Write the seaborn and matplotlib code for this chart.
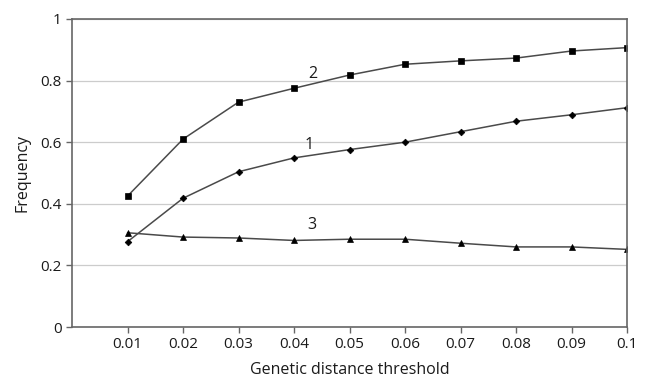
import matplotlib
matplotlib.use("Agg")
import matplotlib.pyplot as plt
import seaborn as sns
import pandas as pd

thresholds = [0.01, 0.02, 0.03, 0.04, 0.05, 0.06, 0.07, 0.08, 0.09, 0.10]
tick_labels = ["0.01", "0.02", "0.03", "0.04", "0.05", "0.06", "0.07", "0.08", "0.09", "0.1"]
series1 = [0.277, 0.418, 0.504, 0.549, 0.576, 0.600, 0.634, 0.668, 0.689, 0.712]
series2 = [0.425, 0.610, 0.730, 0.775, 0.818, 0.853, 0.864, 0.873, 0.896, 0.907]
series3 = [0.306, 0.292, 0.289, 0.281, 0.285, 0.285, 0.272, 0.260, 0.260, 0.252]
series_names = ["1", "2", "3"]

sns.set_style("white")
plt.rcParams['font.family'] = ['Open Sans', 'DejaVu Sans']

fig = plt.figure(figsize=(6.46, 3.81), dpi=100)
ax = fig.add_axes([0.1115, 0.1417, 0.8591, 0.8085])

for ser, mk, ms in [(series2, "s", 4.5), (series1, "D", 3.4), (series3, "^", 5)]:
    sns.lineplot(x=thresholds, y=ser, ax=ax, color="#4a4a4a", linewidth=1.1,
                 marker=mk, markersize=ms, markerfacecolor="black",
                 markeredgecolor="black", markeredgewidth=0.5)

ax.set_xlim(0, 0.1)
ax.set_ylim(0, 1)
ax.set_xticks(thresholds)
ax.set_xticklabels(tick_labels)
ax.set_yticks([0, 0.2, 0.4, 0.6, 0.8, 1.0])
ax.set_yticklabels(["0", "0.2", "0.4", "0.6", "0.8", "1"])
ax.yaxis.grid(True, color="#cccccc", linewidth=0.9)
ax.set_axisbelow(True)
for s in ax.spines.values():
    s.set_color("#666666")
    s.set_linewidth(1.2)
ax.tick_params(axis="both", direction="out", length=4, width=1, color="#666666",
               labelsize=11, labelcolor="#1a1a1a", bottom=True, left=True)

ax.text(0.0433, 0.795, series_names[1], fontsize=11.5, color="#1a1a1a", ha="center", va="bottom")
ax.text(0.0428, 0.565, series_names[0], fontsize=11.5, color="#1a1a1a", ha="center", va="bottom")
ax.text(0.0433, 0.305, series_names[2], fontsize=11.5, color="#1a1a1a", ha="center", va="bottom")

ax.set_xlabel("Genetic distance threshold", fontsize=11.5, color="#1a1a1a", labelpad=7)
ax.set_ylabel("Frequency", fontsize=11.5, color="#1a1a1a", labelpad=7)

fig.savefig("out.png", dpi=100)
